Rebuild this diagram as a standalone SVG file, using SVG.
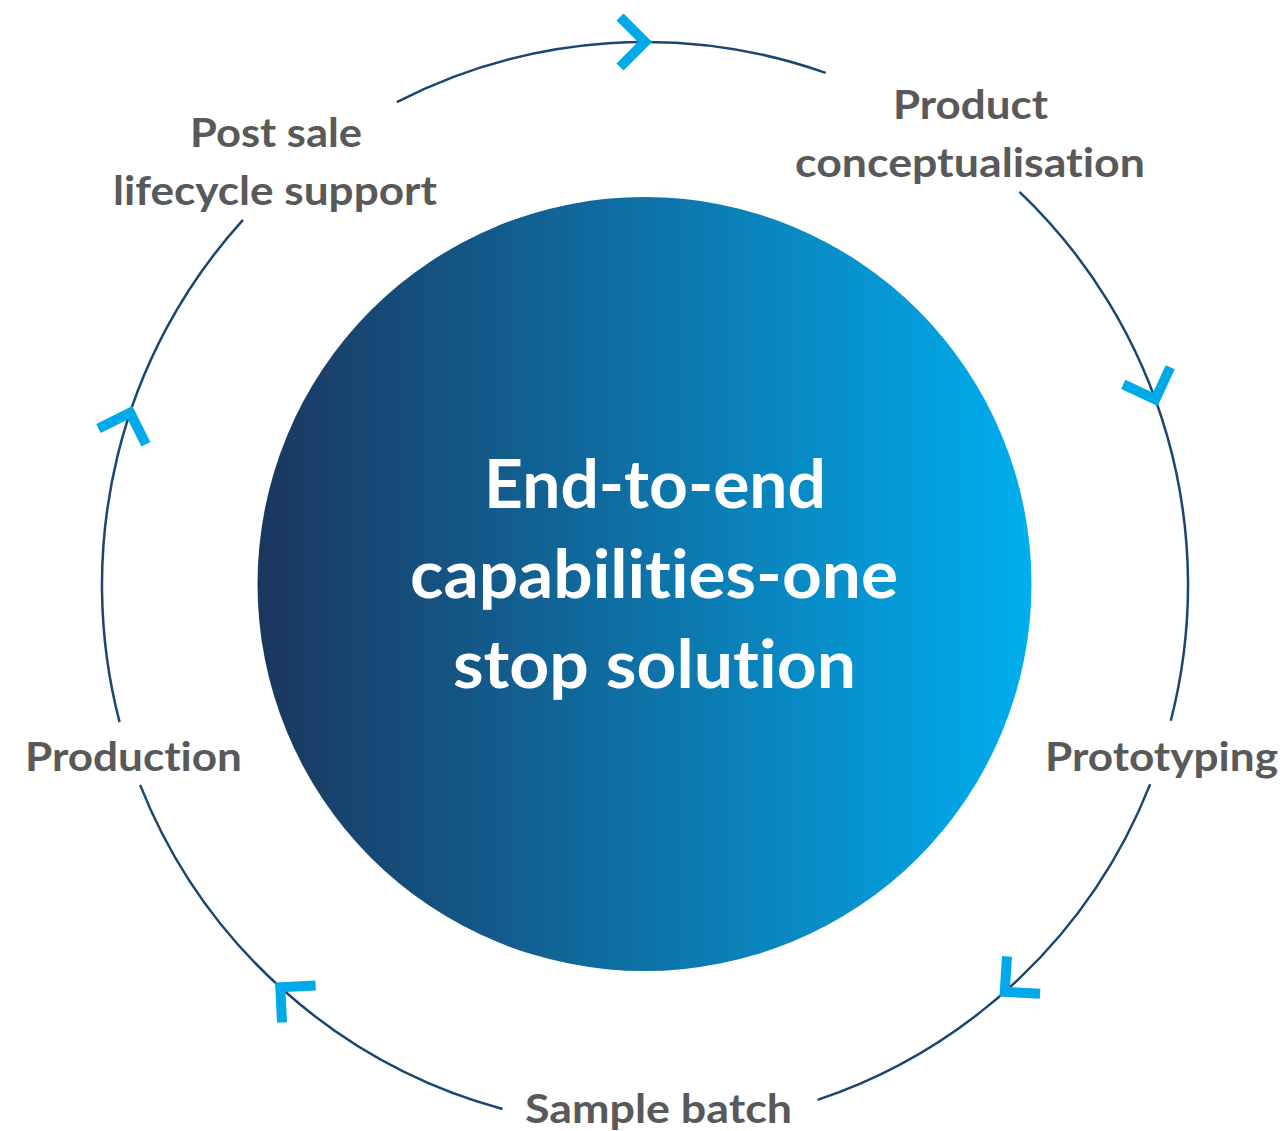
<svg xmlns="http://www.w3.org/2000/svg" xmlns:xlink="http://www.w3.org/1999/xlink" width="1284" height="1131" viewBox="0 0 1284 1131">
  <defs>
    <linearGradient id="hubGrad" x1="0" y1="0" x2="1" y2="0">
      <stop offset="0" stop-color="#1b365f"/>
      <stop offset="1" stop-color="#00aeef"/>
    </linearGradient>
    <polyline id="chev" points="-25,-25 0,0 -25,25" fill="none" stroke="#00a9e8" stroke-width="10" stroke-linejoin="miter" stroke-miterlimit="10"/>
  </defs>
  <style>
    .ring { fill: none; stroke: #1b4670; stroke-width: 2.5; }
    .lbl { font-family: Lato, "Open Sans", "Liberation Sans", sans-serif; font-weight: 700; fill: #595959; font-size: 40px; text-anchor: middle; font-variant-ligatures: none; font-feature-settings: "liga" 0, "clig" 0; }
    .hubtxt { font-family: Lato, "Open Sans", "Liberation Sans", sans-serif; font-weight: 700; fill: #ffffff; font-size: 67px; text-anchor: middle; font-variant-ligatures: none; font-feature-settings: "liga" 0, "clig" 0; }
  </style>
  <rect width="1284" height="1131" fill="#ffffff"/>

  <g id="connectors">
    <path class="ring" d="M396.8,102.1 A543,543 0 0 1 825.7,72.9"/>
    <path class="ring" d="M1019.5,191.8 A543,543 0 0 1 1170.8,720.7"/>
    <path class="ring" d="M1150.2,784.1 A543,543 0 0 1 817.6,1099.9"/>
    <path class="ring" d="M502.5,1109 A543,543 0 0 1 140.1,784.9"/>
    <path class="ring" d="M119.6,722.1 A543,543 0 0 1 243,219.9"/>
    <use xlink:href="#chev" transform="translate(645,42) rotate(0)"/>
    <use xlink:href="#chev" transform="translate(1155.3,399.3) rotate(70)"/>
    <use xlink:href="#chev" transform="translate(1004.8,991.7) rotate(138.5)"/>
    <use xlink:href="#chev" transform="translate(280.3,987.3) rotate(222.2)"/>
    <use xlink:href="#chev" transform="translate(130.1,412.7) rotate(-71.5)"/>
  </g>

  <g id="hub">
    <circle cx="644.5" cy="584" r="387" fill="url(#hubGrad)"/>
    <text class="hubtxt" x="655" y="508" textLength="342" lengthAdjust="spacingAndGlyphs">End-to-end</text>
    <text class="hubtxt" x="654" y="598" textLength="488" lengthAdjust="spacingAndGlyphs">capabilities-one</text>
    <text class="hubtxt" x="654.5" y="688" textLength="403" lengthAdjust="spacingAndGlyphs">stop solution</text>
  </g>

  <g id="node-product-conceptualisation">
    <text class="lbl" x="970.5" y="119" textLength="155" lengthAdjust="spacingAndGlyphs">Product</text>
    <text class="lbl" x="970" y="177" textLength="350" lengthAdjust="spacingAndGlyphs">conceptualisation</text>
  </g>
  <g id="node-prototyping">
    <text class="lbl" x="1161.5" y="771" textLength="233" lengthAdjust="spacingAndGlyphs">Prototyping</text>
  </g>
  <g id="node-sample-batch">
    <text class="lbl" x="658.5" y="1123" textLength="267" lengthAdjust="spacingAndGlyphs">Sample batch</text>
  </g>
  <g id="node-production">
    <text class="lbl" x="133.5" y="771" textLength="217" lengthAdjust="spacingAndGlyphs">Production</text>
  </g>
  <g id="node-post-sale">
    <text class="lbl" x="276" y="147" textLength="172" lengthAdjust="spacingAndGlyphs">Post sale</text>
    <text class="lbl" x="275" y="205" textLength="324" lengthAdjust="spacingAndGlyphs">lifecycle support</text>
  </g>
</svg>
